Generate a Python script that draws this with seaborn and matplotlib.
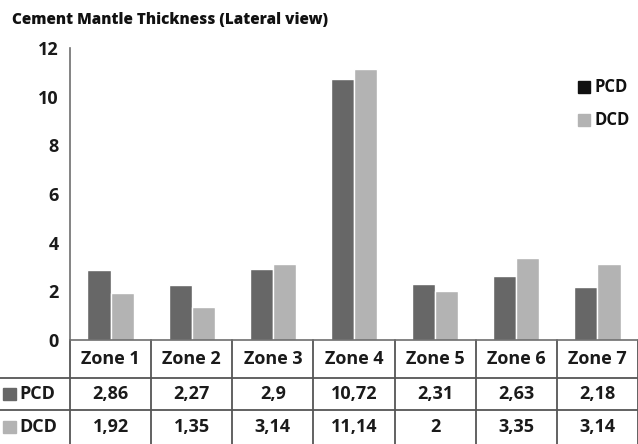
import matplotlib
matplotlib.use("Agg")
import matplotlib.pyplot as plt
import matplotlib.transforms as mtransforms
from matplotlib.patches import Rectangle
import seaborn as sns
import pandas as pd

zones = ["Zone 1", "Zone 2", "Zone 3", "Zone 4", "Zone 5", "Zone 6", "Zone 7"]
pcd = [2.86, 2.27, 2.9, 10.72, 2.31, 2.63, 2.18]
dcd = [1.92, 1.35, 3.14, 11.14, 2, 3.35, 3.14]
series = ["PCD", "DCD"]
colors = {"PCD": "#676767", "DCD": "#b3b3b3"}
legend_colors = {"PCD": "#111111", "DCD": "#b3b3b3"}
yticks = [0, 2, 4, 6, 8, 10, 12]

sns.set_theme(style="white")
plt.rcParams["font.family"] = ["Open Sans", "DejaVu Sans"]

df = pd.DataFrame({
    "zone": zones * 2,
    "series": ["PCD"] * len(zones) + ["DCD"] * len(zones),
    "value": pcd + dcd,
})

W, H = 638, 444
fig = plt.figure(figsize=(W / 100, H / 100), dpi=100)
left, right, top, bottom = 70, 638, 48, 340
ax = fig.add_axes([left / W, 1 - bottom / H, (right - left) / W, (bottom - top) / H])

sns.barplot(data=df, x="zone", y="value", hue="series", hue_order=series,
            palette=colors, width=0.57, saturation=1, ax=ax, legend=False)

ax.set_xlim(-0.5, len(zones) - 0.5)
ax.set_ylim(0, 12)
ax.set_yticks(yticks)
ax.set_yticklabels([str(t) for t in yticks], fontsize=13, fontweight="bold",
                   color="#1a1a1a")
ax.set_xticks([])
ax.set_xlabel("")
ax.set_ylabel("")
for s in ["top", "right"]:
    ax.spines[s].set_visible(False)
for s in ["left", "bottom"]:
    ax.spines[s].set_color("#6e6e6e")
    ax.spines[s].set_linewidth(1.2)
ax.tick_params(axis="y", direction="out", length=5, width=1, color="#6e6e6e", pad=3)

# Legend keys on the right of the plot area
for name, yc in [("PCD", 87), ("DCD", 120)]:
    fig.patches.append(Rectangle((578 / W, 1 - (yc + 6) / H), 12 / W, 12 / H,
                                 transform=fig.transFigure, color=legend_colors[name]))
    fig.text(594 / W, 1 - yc / H, name, ha="left", va="center", fontsize=12,
             fontweight="bold", color="#111111")

# Data table under the chart
trans = mtransforms.blended_transform_factory(ax.transData, ax.transAxes)
hpx = bottom - top
def yax(px):
    return -(px - bottom) / hpx

unit = (right - left) / len(zones)
x_left = -0.5 - left / unit
x_right = len(zones) - 0.5
rows = [bottom, 378, 410, 444]
line_kw = dict(color="#555555", lw=1.3, transform=trans, clip_on=False)

# horizontal rules
ax.plot([x_left, x_right], [yax(rows[1])] * 2, **line_kw)
ax.plot([x_left, x_right], [yax(rows[2])] * 2, **line_kw)
# vertical rules
for i in range(len(zones) + 1):
    ax.plot([i - 0.5, i - 0.5], [0, yax(rows[3])], **line_kw)

txt_kw = dict(transform=trans, ha="center", va="center", fontsize=13,
              fontweight="bold", color="#1a1a1a", clip_on=False)
for i, z in enumerate(zones):
    ax.text(i, yax((rows[0] + rows[1]) / 2), z, **txt_kw)
    ax.text(i, yax((rows[1] + rows[2]) / 2), f"{pcd[i]:g}".replace(".", ","), **txt_kw)
    ax.text(i, yax((rows[2] + rows[3]) / 2), f"{dcd[i]:g}".replace(".", ","), **txt_kw)

for name, r0, r1 in [("PCD", rows[1], rows[2]), ("DCD", rows[2], rows[3])]:
    yc = (r0 + r1) / 2
    fig.patches.append(Rectangle((3 / W, 1 - (yc + 6) / H), 13 / W, 12 / H,
                                 transform=fig.transFigure, color=colors[name]))
    fig.text(19 / W, 1 - yc / H, name, ha="left", va="center", fontsize=13,
             fontweight="bold", color="#1a1a1a")

fig.text(12 / W, 1 - 20 / H, "Cement Mantle Thickness (Lateral view)",
         ha="left", va="center", fontsize=11, fontweight="heavy", color="#111111")

fig.savefig("out.png", dpi=100)
